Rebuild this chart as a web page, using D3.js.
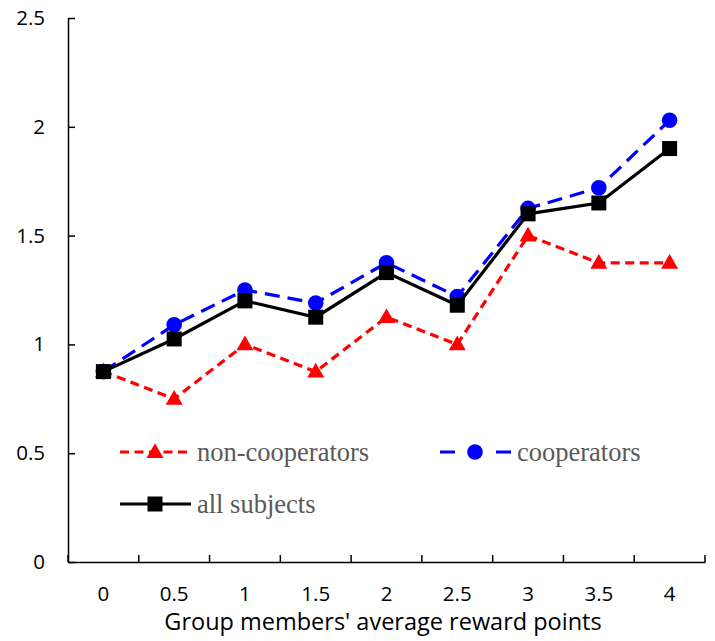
<!DOCTYPE html>
<html><head><meta charset="utf-8">
<script src="https://cdn.jsdelivr.net/npm/d3@7"></script>
<style>body{margin:0;background:#fff}</style>
</head><body>
<svg id="c" width="715" height="641"></svg>
<script>
const categories = ["0","0.5","1","1.5","2","2.5","3","3.5","4"];
const nonCooperators = [0.875,0.75,1.0,0.875,1.125,1.0,1.5,1.375,1.375];
const cooperators = [0.875,1.09,1.25,1.19,1.375,1.22,1.625,1.72,2.03];
const allSubjects = [0.875,1.025,1.2,1.125,1.33,1.18,1.6,1.65,1.9];
const yTicks = [0,0.5,1,1.5,2,2.5];

const svg = d3.select("#c");
const L=68,R=705,T=18,B=562;
const x = d3.scaleBand().domain(categories).range([L,R]);
const y = d3.scaleLinear().domain([0,2.5]).range([B,T]);
const cx = c => x(c)+x.bandwidth()/2;

const axFont = "'Open Sans', sans-serif";
const ya = svg.append("g").attr("transform",`translate(${L},0)`)
  .call(d3.axisLeft(y).tickValues(yTicks).tickSizeInner(-7).tickSizeOuter(0).tickPadding(23).tickFormat(d3.format("")));
const xa = svg.append("g").attr("transform",`translate(0,${B})`)
  .call(d3.axisBottom(x).tickSize(0).tickPadding(24));
[ya,xa].forEach(g=>{g.select(".domain").attr("stroke","#000").attr("stroke-width",1.5);
  g.selectAll("text").attr("font-family",axFont).attr("font-size",20.5).attr("fill","#000");
  g.selectAll("line").attr("stroke","#000").attr("stroke-width",1.5);});
svg.append("g").selectAll("line").data(categories.map(c=>x(c)).concat([R]))
  .join("line").attr("x1",d=>d).attr("x2",d=>d).attr("y1",B).attr("y2",B-7)
  .attr("stroke","#000").attr("stroke-width",1.5);

svg.append("text").attr("x",383).attr("y",630).attr("text-anchor","middle")
  .attr("font-family",axFont).attr("font-size",23.5).text("Group members' average reward points");

const series = [
  {name:"non-cooperators",vals:nonCooperators,color:"#ff0000",dash:"9,5.5",legDash:"9,5.5",marker:"tri"},
  {name:"cooperators",vals:cooperators,color:"#0000ff",dash:"15,8",legDash:"15,41",marker:"circ"},
  {name:"all subjects",vals:allSubjects,color:"#000000",dash:null,legDash:null,marker:"sq"}
];
const line = d3.line().x((d,i)=>cx(categories[i])).y(d=>y(d));
function marker(g,type,color){
  if(type==="tri") g.append("path").attr("d",d3.symbol(d3.symbolTriangle,125)()).attr("fill",color).attr("transform","translate(0,1)");
  else if(type==="circ") g.append("circle").attr("r",7.8).attr("fill",color);
  else g.append("rect").attr("x",-7.5).attr("y",-7.5).attr("width",15).attr("height",15).attr("fill",color);
}
series.forEach(s=>{
  svg.append("path").datum(s.vals).attr("d",line).attr("fill","none").attr("stroke",s.color)
    .attr("stroke-width",3.2).attr("stroke-dasharray",s.dash);
  s.vals.forEach((v,i)=>{const g=svg.append("g").attr("transform",`translate(${cx(categories[i])},${y(v)})`);marker(g,s.marker,s.color);});
});

const leg = [{s:series[0],x:120,y:452},{s:series[1],x:440,y:452},{s:series[2],x:120,y:504}];
leg.forEach(l=>{
  svg.append("line").attr("x1",l.x).attr("x2",l.x+71).attr("y1",l.y).attr("y2",l.y)
    .attr("stroke",l.s.color).attr("stroke-width",3.2).attr("stroke-dasharray",l.s.legDash);
  const g=svg.append("g").attr("transform",`translate(${l.x+35},${l.y})`);marker(g,l.s.marker,l.s.color);
  svg.append("text").attr("x",l.x+77).attr("y",l.y+9).attr("font-family","'Liberation Serif', serif")
    .attr("font-size",26.5).attr("fill","#595959").text(l.s.name);
});
</script>
</body></html>
